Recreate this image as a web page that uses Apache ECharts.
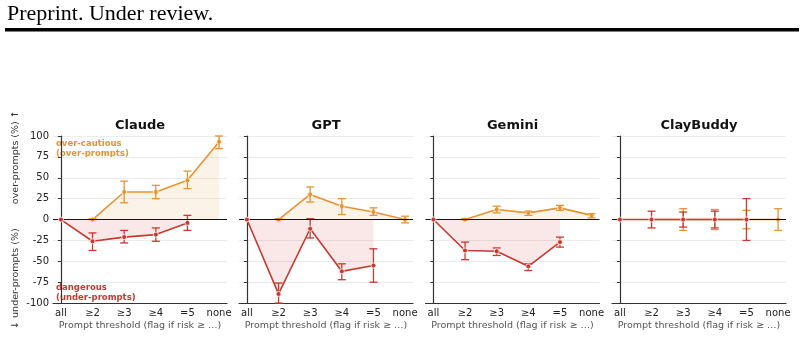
<!DOCTYPE html>
<html>
<head>
<meta charset="utf-8">
<script src="https://cdn.jsdelivr.net/npm/echarts@6/dist/echarts.min.js"></script>
<style>
html, body { margin: 0; padding: 0; background: #fff; }
#chart { width: 804px; height: 338px; }
</style>
</head>
<body>
<div id="chart"></div>
<script>
// categories on the x axis
var thresholds = ['all', '≥2', '≥3', '≥4', '=5', 'none'];
var panelNames = ['Claude', 'GPT', 'Gemini', 'ClayBuddy'];
var yTicks = [-100, -75, -50, -25, 0, 25, 50, 75, 100];

// over-prompts (orange), starts at ≥2 ; null = no point
var overClaude = [null, 0, 33, 33, 47, 93];
var overClaudeLo = [null, 0, 20, 25, 37, 85];
var overClaudeHi = [null, 1, 46, 41, 58, 100];
var overGPT = [null, 0, 30, 16, 9, 0];
var overGPTLo = [null, 0, 21, 6, 5, -4];
var overGPTHi = [null, 1, 39, 25, 14, 4];
var overGemini = [null, 0, 12, 8, 14, 5];
var overGeminiLo = [null, 0, 8, 5, 11, 2];
var overGeminiHi = [null, 1, 16, 10, 17, 7];
var overClay = [null, 0, 0, 0, 0, 0];
var overClayLo = [null, 0, -13, -12, -11, -13];
var overClayHi = [null, 0, 13, 12, 11, 13];

// under-prompts (red), ends at =5
var underClaude = [0, -26, -21, -18, -4, null];
var underClaudeLo = [0, -37, -28, -26, -13, null];
var underClaudeHi = [0, -16, -13, -10, 5, null];
var underGPT = [0, -89, -11, -62, -55, null];
var underGPTLo = [0, -100, -22, -72, -75, null];
var underGPTHi = [0, -76, 1, -53, -35, null];
var underGemini = [0, -37, -38, -56, -27, null];
var underGeminiLo = [0, -48, -43, -61, -33, null];
var underGeminiHi = [0, -27, -34, -53, -21, null];
var underClay = [0, 0, 0, 0, 0, null];
var underClayLo = [0, -10, -9, -10, -25, null];
var underClayHi = [0, 10, 9, 10, 25, null];

var overAll = [[overClaude, overClaudeLo, overClaudeHi], [overGPT, overGPTLo, overGPTHi],
               [overGemini, overGeminiLo, overGeminiHi], [overClay, overClayLo, overClayHi]];
var underAll = [[underClaude, underClaudeLo, underClaudeHi], [underGPT, underGPTLo, underGPTHi],
                [underGemini, underGeminiLo, underGeminiHi], [underClay, underClayLo, underClayHi]];

var orange = '#e69432';
var red = '#c8392f';
var font = 'DejaVu Sans';

var gridLefts = [53, 239, 425.5, 612];
var gridWidth = 174;
var gridTop = 136;
var gridHeight = 171;

function toPoints(vals) {
    var out = [];
    for (var i = 0; i < vals.length; i++) {
        if (vals[i] !== null) out.push([i, vals[i]]);
    }
    return out;
}

function toBars(lo, hi) {
    var out = [];
    for (var i = 0; i < lo.length; i++) {
        if (lo[i] !== null && hi[i] > lo[i]) out.push([i, lo[i], hi[i]]);
    }
    return out;
}

function errRender(color) {
    return function (params, api) {
        var x = api.value(0);
        var a = api.coord([x, api.value(1)]);
        var b = api.coord([x, api.value(2)]);
        var w = 4;
        var st = { stroke: color, lineWidth: 1.3 };
        return {
            type: 'group',
            children: [
                { type: 'line', shape: { x1: a[0], y1: a[1], x2: b[0], y2: b[1] }, style: st },
                { type: 'line', shape: { x1: a[0] - w, y1: a[1], x2: a[0] + w, y2: a[1] }, style: st },
                { type: 'line', shape: { x1: b[0] - w, y1: b[1], x2: b[0] + w, y2: b[1] }, style: st }
            ]
        };
    };
}

var grids = [], xAxes = [], yAxes = [], series = [];
var graphics = [
    { type: 'text', left: 7, top: 3, style: { text: 'Preprint. Under review.', font: '22px "Liberation Serif"', fill: '#000' } },
    { type: 'rect', shape: { x: 5, y: 28, width: 794, height: 3.5 }, style: { fill: '#000' } },
    { type: 'text', left: 56, top: 139, style: { text: 'over-cautious\n(over-prompts)', font: 'bold 8.5px "DejaVu Sans"', fill: orange, lineHeight: 10 } },
    { type: 'text', left: 56, top: 283, style: { text: 'dangerous\n(under-prompts)', font: 'bold 8.5px "DejaVu Sans"', fill: red, lineHeight: 10 } }
];

for (var p = 0; p < 4; p++) {
    grids.push({ left: gridLefts[p], top: gridTop, width: gridWidth, height: gridHeight });
    graphics.push({
        type: 'text', x: gridLefts[p] + gridWidth / 2, y: 126,
        style: { text: panelNames[p], font: 'bold 13px "DejaVu Sans"', fill: '#111', align: 'center', verticalAlign: 'middle' }
    });
    xAxes.push({
        type: 'value', gridIndex: p, min: -0.25, max: 5.25,
        axisLine: { onZero: false, lineStyle: { color: '#333', width: 1.2 } },
        axisTick: { show: false },
        splitLine: { show: false },
        axisLabel: {
            customValues: [0, 1, 2, 3, 4, 5],
            formatter: function (v) { return thresholds[Math.round(v)]; },
            color: '#222', fontSize: 10, fontFamily: font, margin: 5
        },
        name: 'Prompt threshold (flag if risk ≥ …)',
        nameLocation: 'middle', nameGap: 17,
        nameTextStyle: { color: '#555', fontSize: 9.5, fontFamily: font }
    });
    yAxes.push({
        type: 'value', gridIndex: p, min: -100, max: 100, interval: 25,
        axisLine: { show: true, lineStyle: { color: '#333', width: 1.2 } },
        axisTick: { show: true, length: 3, lineStyle: { color: '#333' } },
        splitLine: { show: true, lineStyle: { color: '#ebebeb', width: 1 } },
        axisLabel: { show: p === 0, color: '#222', fontSize: 10, fontFamily: font, margin: 4 },
        name: p === 0 ? '↓ under-prompts (%)        over-prompts (%) ↑' : '',
        nameLocation: 'middle', nameGap: 32, nameRotate: 90,
        nameTextStyle: { color: '#333', fontSize: 9.5, fontFamily: font }
    });

    var ov = overAll[p], un = underAll[p];
    series.push({
        type: 'line', xAxisIndex: p, yAxisIndex: p, data: toPoints(ov[0]),
        symbol: 'circle', symbolSize: 5, z: 3,
        lineStyle: { color: orange, width: 1.6 },
        itemStyle: { color: orange, borderColor: '#fff', borderWidth: 0.8 },
        areaStyle: { color: 'rgba(230,148,50,0.16)', origin: 0 },
        markLine: {
            silent: true, symbol: 'none', label: { show: false },
            lineStyle: { color: '#111', width: 1, type: 'solid' },
            data: [{ yAxis: 0 }]
        }
    });
    series.push({
        type: 'custom', xAxisIndex: p, yAxisIndex: p, data: toBars(ov[1], ov[2]),
        renderItem: errRender(orange), z: 4
    });
    series.push({
        type: 'line', xAxisIndex: p, yAxisIndex: p, data: toPoints(un[0]),
        symbol: 'circle', symbolSize: 5, z: 5,
        lineStyle: { color: red, width: 1.6 },
        itemStyle: { color: red, borderColor: '#fff', borderWidth: 0.8 },
        areaStyle: { color: 'rgba(200,57,47,0.17)', origin: 0 }
    });
    series.push({
        type: 'custom', xAxisIndex: p, yAxisIndex: p, data: toBars(un[1], un[2]),
        renderItem: errRender(red), z: 4
    });
}

var chart = echarts.init(document.getElementById('chart'), null, { renderer: 'canvas' });
chart.setOption({
    animation: false,
    backgroundColor: '#fff',
    grid: grids,
    xAxis: xAxes,
    yAxis: yAxes,
    series: series,
    graphic: graphics
});
</script>
</body>
</html>
